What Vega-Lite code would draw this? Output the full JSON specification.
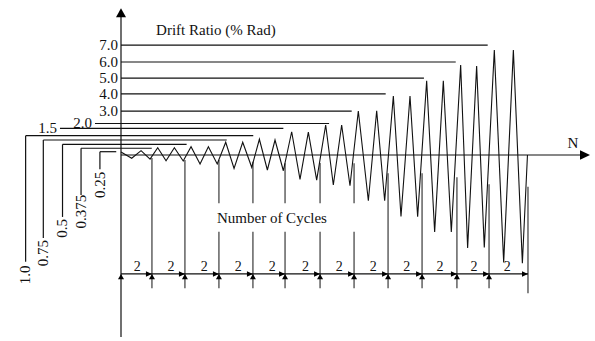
{
  "$schema": "https://vega.github.io/schema/vega-lite/v6.json",
  "width": 595,
  "height": 341,
  "autosize": "none",
  "padding": 0,
  "background": "white",
  "config": {"view": {"stroke": null}, "text": {"font": "Liberation Serif", "color": "#111"}},
  "datasets": {
    "history": [
      {"n":0,"d":0.2},{"n":0.63,"d":-0.22},{"n":1.18,"d":0.29},{"n":1.71,"d":-0.27},
      {"n":2.16,"d":0.49},{"n":2.65,"d":-0.38},{"n":3.14,"d":0.49},{"n":3.66,"d":-0.4},
      {"n":4.12,"d":0.55},{"n":4.65,"d":-0.6},{"n":5.14,"d":0.55},{"n":5.66,"d":-0.6},
      {"n":6.16,"d":0.85},{"n":6.65,"d":-0.89},{"n":7.16,"d":0.85},{"n":7.69,"d":-0.82},
      {"n":8.14,"d":1.05},{"n":8.61,"d":-1.0},{"n":9.06,"d":1.0},{"n":9.55,"d":-1.05},
      {"n":10.04,"d":1.55},{"n":10.53,"d":-1.62},{"n":11.02,"d":1.53},{"n":11.51,"d":-1.67},
      {"n":12.04,"d":2.0},{"n":12.49,"d":-2.0},{"n":12.98,"d":2.0},{"n":13.47,"d":-2.05},
      {"n":13.96,"d":2.93},{"n":14.55,"d":-3.05},{"n":15.04,"d":2.95},{"n":15.51,"d":-3.05},
      {"n":16.02,"d":3.93},{"n":16.47,"d":-4.1},{"n":17.0,"d":3.93},{"n":17.45,"d":-4.11},
      {"n":17.98,"d":4.95},{"n":18.45,"d":-5.13},{"n":18.96,"d":4.95},{"n":19.43,"d":-5.13},
      {"n":19.98,"d":6.0},{"n":20.39,"d":-6.2},{"n":20.92,"d":5.93},{"n":21.37,"d":-6.17},
      {"n":21.96,"d":7.0},{"n":22.51,"d":-7.17},{"n":23.08,"d":7.0},{"n":23.61,"d":-7.22},
      {"n":23.91,"d":0}
    ],
    "guides": [
      {"item":"drift axis","n":0,"n2":0,"d":9.2,"d2":-12.13},
      {"item":"N axis","n":0,"n2":27.2,"d":0,"d2":0},
      {"item":"7.0","n":0,"n2":21.57,"d":7.33,"d2":7.33},
      {"item":"6.0","n":0,"n2":19.69,"d":6.2,"d2":6.2},
      {"item":"5.0","n":0,"n2":17.82,"d":5.13,"d2":5.13},
      {"item":"4.0","n":0,"n2":15.57,"d":4.07,"d2":4.07},
      {"item":"3.0","n":0,"n2":13.57,"d":2.93,"d2":2.93},
      {"item":"2.0","n":-1.53,"n2":12.24,"d":2.1,"d2":2.1},
      {"item":"1.5","n":-3.59,"n2":9.55,"d":1.78,"d2":1.78},
      {"item":"1.0","n":-5.61,"n2":7.78,"d":1.29,"d2":1.29},
      {"item":"0.75","n":-4.57,"n2":6.22,"d":1.0,"d2":1.0},
      {"item":"0.5","n":-3.44,"n2":3.86,"d":0.71,"d2":0.71},
      {"item":"0.375","n":-2.35,"n2":1.81,"d":0.45,"d2":0.45},
      {"item":"0.25","n":-1.24,"n2":-0.28,"d":0.22,"d2":0.22},
      {"item":"1.0 leg","n":-5.61,"n2":-5.61,"d":1.29,"d2":-7.11},
      {"item":"0.75 leg","n":-4.57,"n2":-4.57,"d":1.0,"d2":-5.53},
      {"item":"0.5 leg","n":-3.44,"n2":-3.44,"d":0.71,"d2":-4.13},
      {"item":"0.375 leg","n":-2.35,"n2":-2.35,"d":0.45,"d2":-2.67},
      {"item":"0.25 leg","n":-1.24,"n2":-1.24,"d":0.22,"d2":-0.95},
      {"item":"dimension","n":0,"n2":23.94,"d":-7.93,"d2":-7.93}
    ],
    "boundaries": [
      {"n":1.82,"d":-0.2,"d2":-8.89},
      {"n":3.76,"d":-0.33,"d2":-8.89},
      {"n":5.76,"d":-0.33,"d2":-3.22},{"n":5.76,"d":-5.11,"d2":-8.89},
      {"n":7.76,"d":-0.45,"d2":-3.22},{"n":7.76,"d":-5.11,"d2":-8.89},
      {"n":9.65,"d":-0.55,"d2":-3.22},{"n":9.65,"d":-5.11,"d2":-8.89},
      {"n":11.71,"d":-0.53,"d2":-3.22},{"n":11.71,"d":-5.11,"d2":-8.89},
      {"n":13.71,"d":-0.55,"d2":-3.22},{"n":13.71,"d":-5.11,"d2":-8.89},
      {"n":15.71,"d":-1.22,"d2":-8.89},
      {"n":17.71,"d":-1.22,"d2":-8.89},
      {"n":19.76,"d":-1.49,"d2":-8.89},
      {"n":21.65,"d":-1.95,"d2":-8.89},
      {"n":23.94,"d":-2.11,"d2":-9.22}
    ],
    "axisArrows": [
      {"dir":"up","n":0,"d":9.78},
      {"dir":"right","n":27.59,"d":0}
    ],
    "dimArrows": [
      {"dir":"left","n":0,"d":-7.93},{"dir":"right","n":1.82,"d":-7.93},
      {"dir":"left","n":1.82,"d":-7.93},{"dir":"right","n":3.76,"d":-7.93},
      {"dir":"left","n":3.76,"d":-7.93},{"dir":"right","n":5.76,"d":-7.93},
      {"dir":"left","n":5.76,"d":-7.93},{"dir":"right","n":7.76,"d":-7.93},
      {"dir":"left","n":7.76,"d":-7.93},{"dir":"right","n":9.65,"d":-7.93},
      {"dir":"left","n":9.65,"d":-7.93},{"dir":"right","n":11.71,"d":-7.93},
      {"dir":"left","n":11.71,"d":-7.93},{"dir":"right","n":13.71,"d":-7.93},
      {"dir":"left","n":13.71,"d":-7.93},{"dir":"right","n":15.71,"d":-7.93},
      {"dir":"left","n":15.71,"d":-7.93},{"dir":"right","n":17.71,"d":-7.93},
      {"dir":"left","n":17.71,"d":-7.93},{"dir":"right","n":19.76,"d":-7.93},
      {"dir":"left","n":19.76,"d":-7.93},{"dir":"right","n":21.65,"d":-7.93},
      {"dir":"left","n":21.65,"d":-7.93},{"dir":"right","n":23.94,"d":-7.93}
    ],
    "labels": [
      {"kind":"level","text":"7.0","n":0,"d":7.33},
      {"kind":"level","text":"6.0","n":0,"d":6.2},
      {"kind":"level","text":"5.0","n":0,"d":5.13},
      {"kind":"level","text":"4.0","n":0,"d":4.07},
      {"kind":"level","text":"3.0","n":0,"d":2.93},
      {"kind":"level","text":"2.0","n":-1.53,"d":2.1},
      {"kind":"level","text":"1.5","n":-3.59,"d":1.78},
      {"kind":"bracket","text":"1.0","n":-5.65,"d":-8.0},
      {"kind":"bracket","text":"0.75","n":-4.57,"d":-6.55},
      {"kind":"bracket","text":"0.5","n":-3.47,"d":-4.9},
      {"kind":"bracket","text":"0.375","n":-2.35,"d":-3.78},
      {"kind":"bracket","text":"0.25","n":-1.24,"d":-2.0},
      {"kind":"title","text":"Drift Ratio (% Rad)","n":5.58,"d":8.33},
      {"kind":"title","text":"N","n":26.59,"d":0.8},
      {"kind":"title","text":"Number of Cycles","n":8.88,"d":-4.18},
      {"kind":"count","text":"2","n":0.96,"d":-7.45},
      {"kind":"count","text":"2","n":2.94,"d":-7.45},
      {"kind":"count","text":"2","n":4.9,"d":-7.45},
      {"kind":"count","text":"2","n":6.9,"d":-7.45},
      {"kind":"count","text":"2","n":8.9,"d":-7.45},
      {"kind":"count","text":"2","n":10.86,"d":-7.45},
      {"kind":"count","text":"2","n":12.84,"d":-7.45},
      {"kind":"count","text":"2","n":14.84,"d":-7.45},
      {"kind":"count","text":"2","n":16.81,"d":-7.45},
      {"kind":"count","text":"2","n":18.76,"d":-7.45},
      {"kind":"count","text":"2","n":20.76,"d":-7.45},
      {"kind":"count","text":"2","n":22.72,"d":-7.45}
    ]
  },
  "encoding": {
    "x": {"field": "n", "type": "quantitative", "scale": {"domain": [-7.1176, 27.8824], "nice": false, "zero": false}, "axis": null},
    "y": {"field": "d", "type": "quantitative", "scale": {"domain": [-12.4, 10.3333], "nice": false, "zero": false}, "axis": null}
  },
  "layer": [
    {
      "data": {"name": "boundaries"},
      "mark": {"type": "rule", "color": "#555", "strokeWidth": 1.4},
      "encoding": {"y2": {"field": "d2"}}
    },
    {
      "data": {"name": "guides"},
      "mark": {"type": "rule", "color": "#111", "strokeWidth": 1.2},
      "encoding": {"x2": {"field": "n2"}, "y2": {"field": "d2"}}
    },
    {
      "data": {"name": "history"},
      "mark": {"type": "line", "color": "#111", "strokeWidth": 1.1},
      "encoding": {}
    },
    {
      "data": {"name": "axisArrows"},
      "mark": {"type": "point", "filled": true, "color": "#000", "opacity": 1, "strokeWidth": 0, "size": 100},
      "encoding": {"shape": {"field": "dir", "type": "nominal", "scale": {"domain": ["up", "right"], "range": ["M0,0L1,1.8L-1,1.8Z", "M0,0L-2,-0.93L-2,0.93Z"]}, "legend": null}}
    },
    {
      "data": {"name": "dimArrows"},
      "mark": {"type": "point", "filled": true, "color": "#000", "opacity": 1, "strokeWidth": 0, "size": 36},
      "encoding": {"shape": {"field": "dir", "type": "nominal", "scale": {"domain": ["left", "right"], "range": ["M0,0L2,-0.9L2,0.9Z", "M0,0L-2,-0.9L-2,0.9Z"]}, "legend": null}}
    },
    {
      "data": {"name": "labels"},
      "transform": [{"filter": "datum.kind === 'level'"}],
      "mark": {"type": "text", "align": "right", "baseline": "middle", "dx": -3, "fontSize": 15},
      "encoding": {"text": {"field": "text"}}
    },
    {
      "data": {"name": "labels"},
      "transform": [{"filter": "datum.kind === 'bracket'"}],
      "mark": {"type": "text", "align": "center", "baseline": "middle", "angle": 270, "fontSize": 15},
      "encoding": {"text": {"field": "text"}}
    },
    {
      "data": {"name": "labels"},
      "transform": [{"filter": "datum.kind === 'title'"}],
      "mark": {"type": "text", "align": "center", "baseline": "middle", "fontSize": 15},
      "encoding": {"text": {"field": "text"}}
    },
    {
      "data": {"name": "labels"},
      "transform": [{"filter": "datum.kind === 'count'"}],
      "mark": {"type": "text", "align": "center", "baseline": "middle", "fontSize": 14},
      "encoding": {"text": {"field": "text"}}
    }
  ]
}
